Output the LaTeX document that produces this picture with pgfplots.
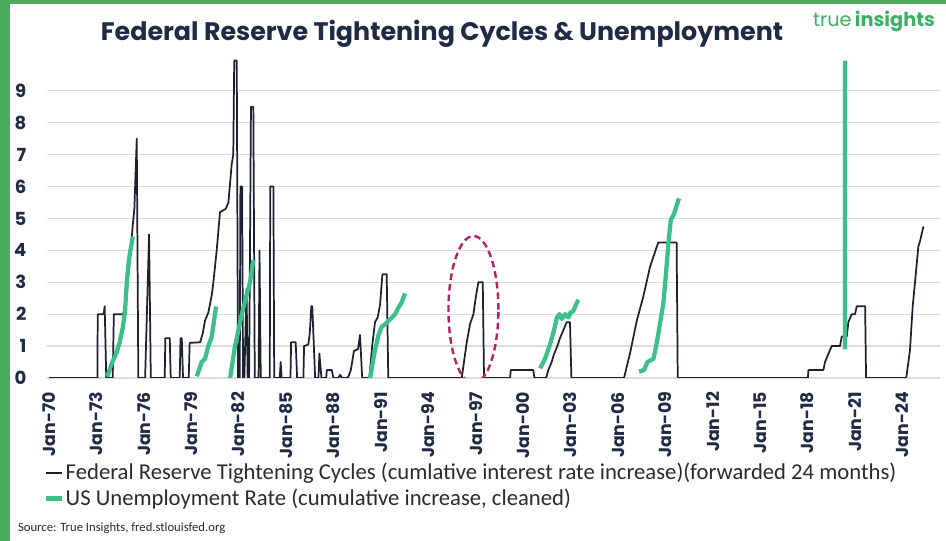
\documentclass[border=0pt]{standalone}
\usepackage{pgfplots}
\pgfplotsset{compat=1.18}
\usepackage{fontspec}
\setmainfont{Carlito}
\newfontfamily\headfont{Poppins}

\definecolor{navy}{HTML}{1F2A44}
\definecolor{fedline}{HTML}{1B2131}
\definecolor{unemp}{HTML}{3DBF8A}
\definecolor{gridgrey}{HTML}{DCDCDC}
\definecolor{ringred}{HTML}{B3245E}
\definecolor{framegreen}{HTML}{4CAA5F}
\definecolor{logogreen}{HTML}{3DAE64}
\definecolor{legtext}{HTML}{2B2B2B}

\begin{document}
\begin{tikzpicture}
\useasboundingbox (0,0) rectangle (709.5pt,405.75pt);
\fill[white] (0,0) rectangle (709.5pt,405.75pt);
\fill[framegreen] (0,0) rectangle (7.5pt,405.75pt);
\fill[framegreen] (0,402.75pt) rectangle (709.5pt,405.75pt);

% title and logo
\node[font=\headfont\bfseries\fontsize{19}{21}\selectfont, text=navy] at (331.5pt,380pt)
  {Federal Reserve Tightening Cycles \& Unemployment};
\node[font=\headfont\fontsize{14.5}{15}\selectfont, text=logogreen] at (655.5pt,390pt)
  {true\,\textbf{insights}};
\node[font=\fontsize{9.5}{10}\selectfont, text=legtext, anchor=west] at (10pt,9.5pt)
  {Source: True Insights, fred.stlouisfed.org};

\begin{axis}[
    at={(35.25pt,122.25pt)}, anchor=south west,
    scale only axis, width=669.75pt, height=239.25pt,
    xmin=1969.87, xmax=2026.39, ymin=0, ymax=10,
    axis line style={draw=none},
    major tick length=0pt,
    ytick={0,...,9},
    xtick={1970,1973,...,2024},
    xticklabels={Jan-70,Jan-73,Jan-76,Jan-79,Jan-82,Jan-85,Jan-88,Jan-91,Jan-94,Jan-97,Jan-00,Jan-03,Jan-06,Jan-09,Jan-12,Jan-15,Jan-18,Jan-21,Jan-24},
    ymajorgrids, grid style={gridgrey, line width=0.9pt},
    /pgf/number format/assume math mode=true,
    yticklabel style={font=\headfont\bfseries\fontsize{13.5}{13.5}\selectfont, text=navy},
    yticklabel shift=12pt,
    xticklabel style={font=\headfont\bfseries\fontsize{13}{13}\selectfont, text=navy, rotate=90, anchor=east},
    xticklabel shift=7pt,
    unbounded coords=jump,
    legend style={draw=none, fill=none, at={(-0.008,-0.25)}, anchor=north west,
        font=\fontsize{17}{19}\selectfont, text=legtext, row sep=1.5pt,
        nodes={inner xsep=1pt}},
    legend cell align=left,
]
% Fed tightening, cumulative rate increase, forwarded 24 months
\addplot[fedline, line width=1.3pt, line join=round,
    legend image code/.code={\draw[fedline, line width=1.3pt] (0pt,0pt) -- (12pt,0pt);}]
coordinates {
(1970,0) (1973.06,0) (1973.08,2.0) (1973.46,2.0) (1973.52,2.25) (1973.62,0)
(1974.03,0) (1974.1,2.0) (1974.7,2.0) (1974.9,2.6) (1975.1,3.6) (1975.3,4.8)
(1975.4,5.3) (1975.55,7.5) (1975.65,0)
(1976.08,0) (1976.33,4.5) (1976.44,0)
(1977.32,0) (1977.36,1.25) (1977.64,1.25) (1977.7,0)
(1978.27,0) (1978.32,1.25) (1978.4,1.25) (1978.48,0)
(1978.84,0) (1978.9,1.1) (1979.56,1.12) (1979.73,1.4) (1979.87,1.8)
(1980.08,2.05) (1980.3,2.6) (1980.4,3.0) (1980.61,4.0) (1980.82,5.2)
(1981.18,5.3) (1981.35,5.5) (1981.56,6.7) (1981.66,7.0) (1981.72,9.95)
(1981.88,9.95) (1981.96,0)
(1982.07,0) (1982.11,6.0) (1982.22,6.0) (1982.28,0)
(1982.36,0) (1982.5,2.8) (1982.57,0) (1982.66,0) (1982.78,8.5) (1982.93,8.5) (1983.02,0)
(1983.26,0) (1983.32,4.0) (1983.4,0)
(1983.97,0) (1984.0,6.0) (1984.2,6.0) (1984.25,0)
(1984.6,0) (1984.66,0.5) (1984.72,0)
(1985.28,0) (1985.32,1.12) (1985.61,1.12) (1985.7,0)
(1986.1,0) (1986.14,1.0) (1986.41,1.05) (1986.5,1.4) (1986.6,2.25) (1986.66,2.25) (1986.84,0)
(1987.05,0) (1987.11,0.77) (1987.24,0)
(1987.54,0) (1987.58,0.25) (1987.89,0.25) (1988.0,0)
(1988.32,0) (1988.42,0.1) (1988.55,0)
(1988.85,0) (1988.95,0.05) (1989.1,0.25) (1989.3,0.85) (1989.55,0.9) (1989.68,1.35) (1989.82,0)
(1990.27,0) (1990.45,1.0) (1990.63,1.75) (1990.8,1.9) (1990.95,2.3) (1991.1,3.25)
(1991.37,3.25) (1991.47,0)
(1996.12,0) (1996.43,1.1) (1996.65,1.7) (1996.86,2.0) (1997.0,2.5) (1997.17,3.0)
(1997.45,3.0) (1997.53,0)
(1999.18,0) (1999.22,0.25) (2000.65,0.25) (2000.72,0)
(2001.46,0) (2001.6,0.25) (2001.81,0.5) (2001.96,0.75) (2002.17,1.0) (2002.34,1.25)
(2002.55,1.5) (2002.76,1.75) (2002.97,1.75) (2003.06,0)
(2006.39,0) (2006.77,0.77) (2007.2,1.8) (2007.61,2.55) (2008.04,3.49) (2008.25,3.8)
(2008.56,4.25) (2009.72,4.25) (2009.79,0)
(2018.03,0) (2018.06,0.25) (2019.01,0.25) (2019.11,0.5) (2019.32,0.75) (2019.54,1.0)
(2020.06,1.0) (2020.17,1.3) (2020.49,1.3) (2020.59,1.75) (2020.8,2.0) (2021.01,2.0)
(2021.12,2.25) (2021.65,2.25) (2021.71,0)
(2024.24,0) (2024.28,0.1) (2024.49,0.88) (2024.66,2.24) (2024.81,3.02) (2025.02,4.12)
(2025.13,4.3) (2025.34,4.75)
};
\addlegendentry{Federal Reserve Tightening Cycles (cumlative interest rate increase)(forwarded 24 months)}

% US unemployment, cumulative increase
\addplot[unemp, line width=3.2pt, line join=round,
    legend image code/.code={\draw[unemp, line width=3.2pt] (0pt,0pt) -- (12pt,0pt);}]
coordinates {
(1973.69,0.04) (1973.97,0.46) (1974.24,0.75) (1974.45,1.09) (1974.66,1.56) (1974.81,2.1)
(1974.92,3.0) (1975.02,3.56) (1975.13,3.95) (1975.3,4.43)
(1975.3,nan)
(1979.35,0.05) (1979.66,0.5) (1979.87,0.6) (1980.08,1.0) (1980.3,1.3) (1980.57,2.24)
(1980.57,nan)
(1981.46,0) (1981.77,1.0) (1982.2,2.0) (1982.45,2.5) (1982.72,3.0) (1982.93,3.7)
(1982.93,nan)
(1990.32,0) (1990.6,0.8) (1990.85,1.35) (1991.05,1.6) (1991.3,1.7) (1991.6,1.85)
(1991.9,2.0) (1992.1,2.2) (1992.3,2.35) (1992.53,2.65)
(1992.53,nan)
(2001.08,0.3) (2001.39,0.6) (2001.71,1.05) (2001.96,1.5) (2002.15,1.9) (2002.3,2.0)
(2002.45,1.85) (2002.66,2.0) (2002.87,1.9) (2003.0,2.05) (2003.18,2.1) (2003.35,2.3)
(2003.5,2.45)
(2003.5,nan)
(2007.34,0.2) (2007.66,0.25) (2007.87,0.5) (2008.25,0.6) (2008.46,1.09) (2008.67,1.71)
(2008.88,2.34) (2009.03,3.18) (2009.2,4.22) (2009.35,4.95) (2009.56,5.15) (2009.87,5.63)
(2009.87,nan)
(2020.38,0.9) (2020.38,9.95)
};
\addlegendentry{US Unemployment Rate (cumulative increase, cleaned)}

% highlighted 1996-97 cycle
\draw[ringred, line width=1.8pt, dash pattern=on 5pt off 3pt]
  (axis cs:1996.86,2.14) ellipse [x radius=1.58, y radius=2.31];
\end{axis}
\end{tikzpicture}
\end{document}
